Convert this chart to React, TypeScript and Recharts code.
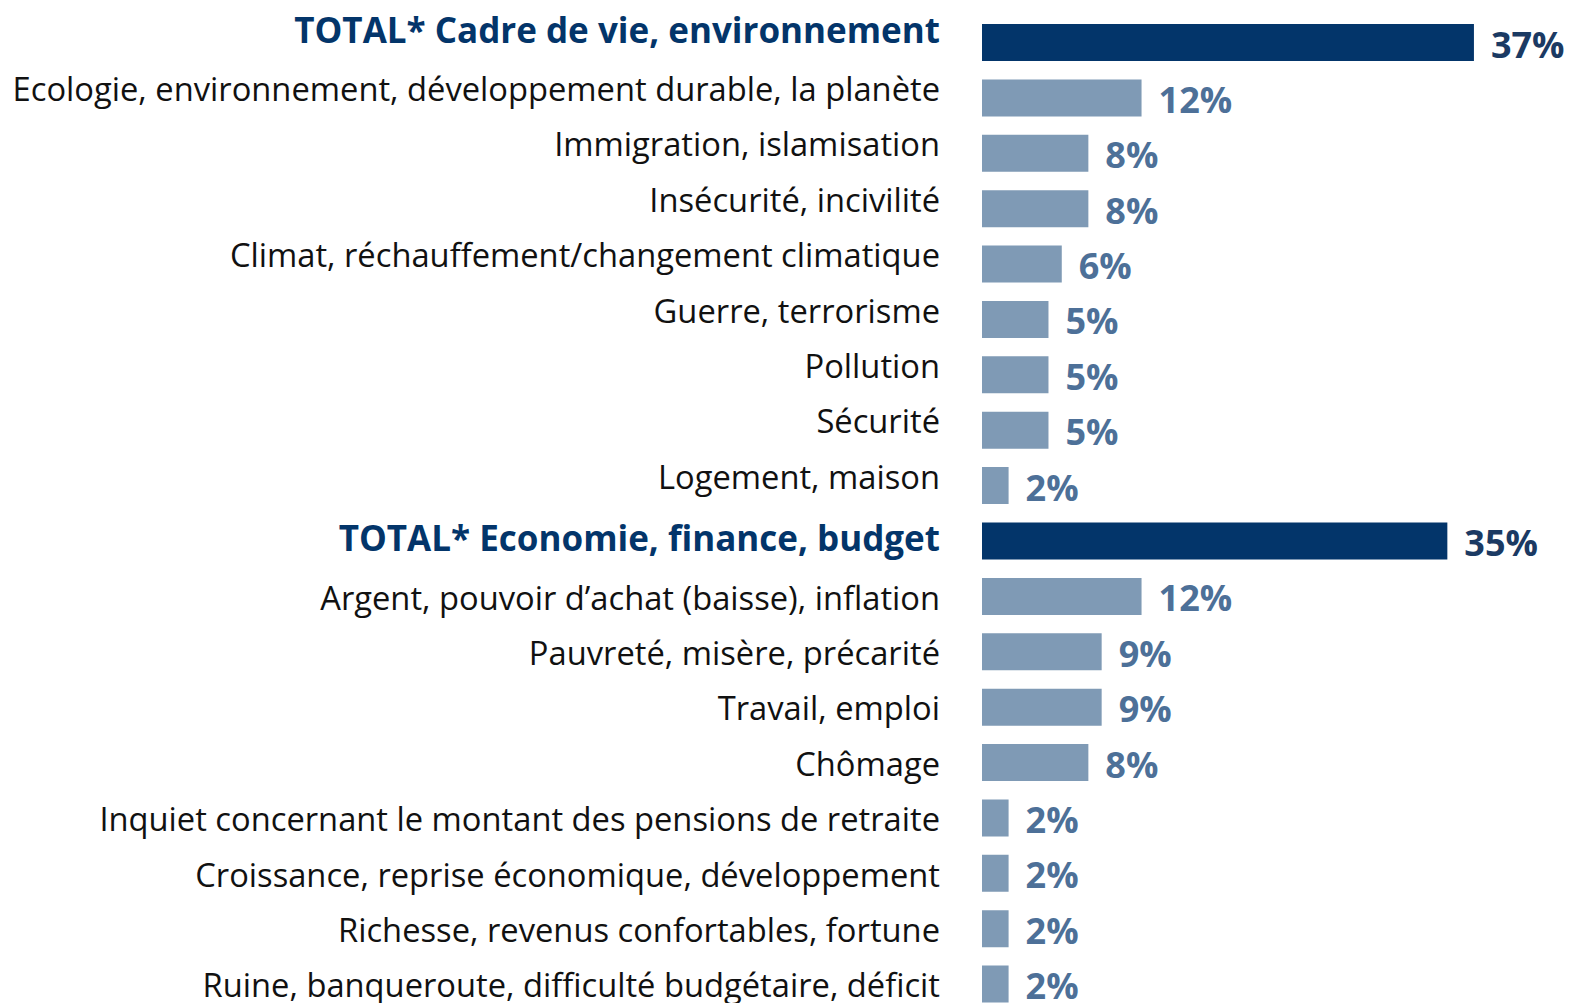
import { BarChart, Bar, XAxis, YAxis, Cell, LabelList } from "recharts"

const categories = [
  "TOTAL* Cadre de vie, environnement",
  "Ecologie, environnement, développement durable, la planète",
  "Immigration, islamisation",
  "Insécurité, incivilité",
  "Climat, réchauffement/changement climatique",
  "Guerre, terrorisme",
  "Pollution",
  "Sécurité",
  "Logement, maison",
  "TOTAL* Economie, finance, budget",
  "Argent, pouvoir d’achat (baisse), inflation",
  "Pauvreté, misère, précarité",
  "Travail, emploi",
  "Chômage",
  "Inquiet concernant le montant des pensions de retraite",
  "Croissance, reprise économique, développement",
  "Richesse, revenus confortables, fortune",
  "Ruine, banqueroute, difficulté budgétaire, déficit",
]

const values = [37, 12, 8, 8, 6, 5, 5, 5, 2, 35, 12, 9, 9, 8, 2, 2, 2, 2]

const totals = [true, false, false, false, false, false, false, false, false, true, false, false, false, false, false, false, false, false]

const data = categories.map((name, i) => ({ name, value: values[i], total: totals[i] }))

const DARK = "#03356A"
const LIGHT = "#7F9AB5"
const FONT = "'Open Sans', sans-serif"

// the second block of labels sits a bit lower against its bars in the original
const secondGroupStart = totals.lastIndexOf(true)

const CategoryTick = (props: any) => {
  const { x, y, payload, index } = props
  const isTotal = totals[index]
  const shift = index >= secondGroupStart ? 10 : 0
  return (
    <text
      x={x}
      y={y}
      dy={(isTotal ? 0 : 3) + shift}
      textAnchor="end"
      fontFamily={FONT}
      fontSize={isTotal ? 35 : 32.7}
      fontWeight={isTotal ? 700 : 400}
      fill={isTotal ? DARK : "#111111"}
    >
      {payload.value}
    </text>
  )
}

const ValueLabel = (props: any) => {
  const { x, y, width, height, value, index } = props
  const isTotal = totals[index]
  return (
    <text
      x={x + width + 17}
      y={y + height / 2}
      dy={15}
      textAnchor="start"
      fontFamily={FONT}
      fontSize={36}
      fontWeight={700}
      fill={isTotal ? "#1B3A63" : "#4D7098"}
    >
      {value}%
    </text>
  )
}

export default function App() {
  return (
    <div style={{ position: "absolute", left: 0, top: 0, background: "#fff" }}>
      <BarChart
        layout="vertical"
        width={1571}
        height={1012}
        data={data}
        margin={{ top: 15, right: 0, bottom: 0, left: 0 }}
        barSize={37}
      >
        <XAxis type="number" domain={[0, 44.3]} hide />
        <YAxis
          type="category"
          dataKey="name"
          width={982}
          axisLine={false}
          tickLine={false}
          tickSize={0}
          tickMargin={42}
          interval={0}
          tick={<CategoryTick />}
        />
        <Bar dataKey="value" isAnimationActive={false}>
          {data.map((d, i) => (
            <Cell key={`cell-${i}`} fill={d.total ? DARK : LIGHT} />
          ))}
          <LabelList dataKey="value" content={<ValueLabel />} />
        </Bar>
      </BarChart>
    </div>
  )
}
